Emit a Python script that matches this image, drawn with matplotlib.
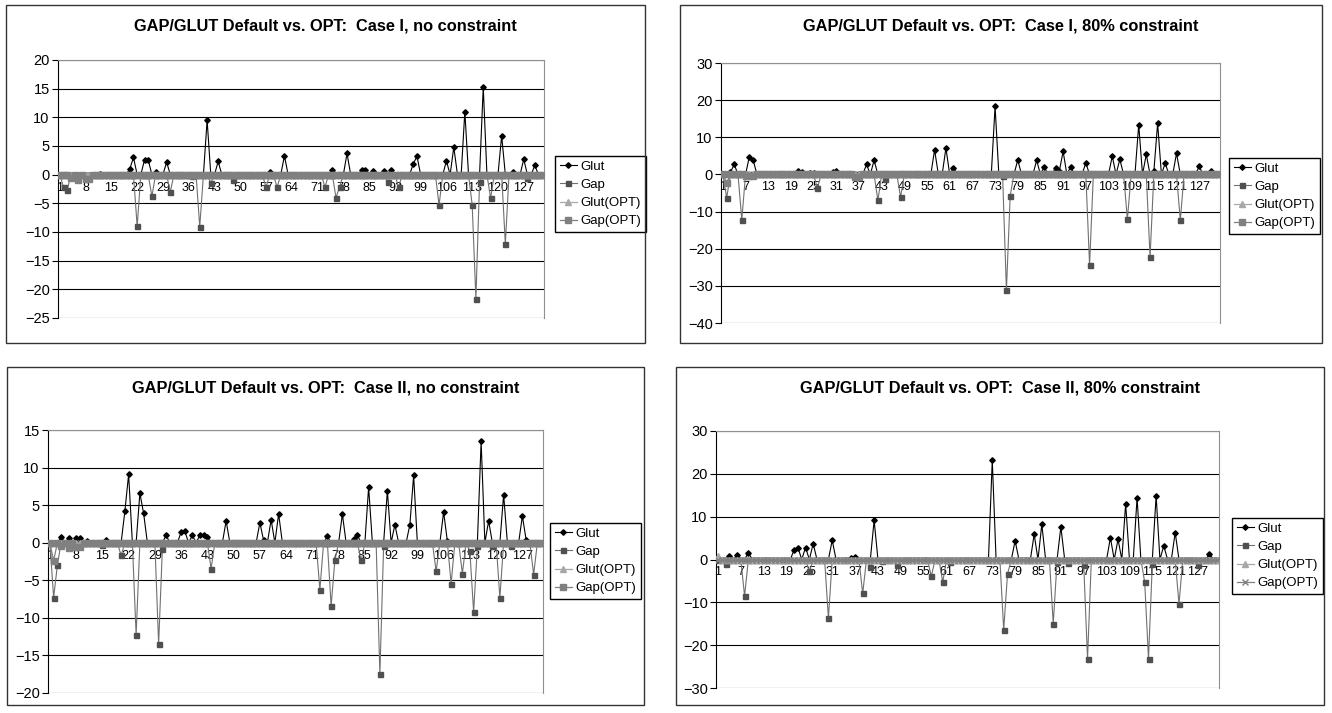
import matplotlib
matplotlib.use("Agg")
import matplotlib.pyplot as plt
import numpy as np
from matplotlib.patches import Rectangle

plt.rcParams["font.family"] = ["Liberation Sans", "DejaVu Sans"]

W, H = 1332, 713
N = 132

# nonzero values per series, {category: value}; every other category is 0
glut_1 = {12: 0.2, 20: 1.0, 21: 3.0, 24: 2.6, 25: 2.6, 27: 0.4, 30: 2.2, 41: 9.5,
          44: 2.3, 58: 0.4, 62: 3.3, 75: 0.8, 79: 3.7, 83: 0.8, 84: 0.8, 86: 0.7,
          89: 0.6, 91: 0.8, 97: 1.9, 98: 3.2, 106: 2.4, 108: 4.8, 111: 11.0,
          116: 15.3, 121: 6.8, 124: 0.4, 127: 2.7, 130: 1.6}
gap_1 = {2: -2.2, 3: -2.7, 22: -9.0, 26: -3.8, 31: -3.0, 37: -0.3, 39: -9.1,
         42: -1.45, 48: -0.9, 57: -2.2, 60: -2.2, 73: -2.2, 76: -4.0, 77: -2.1,
         90: -1.3, 93: -2.2, 104: -5.3, 113: -5.3, 114: -21.6, 115: -1.2,
         118: -4.1, 122: -12.1, 128: -0.5}
glut_opt_1 = {}
gap_opt_1 = {4: -0.6, 6: -1.0, 8: -0.8, 9: -0.8}

glut_2 = {3: 0.6, 4: 2.7, 8: 4.8, 9: 3.9, 21: 0.8, 22: 0.6, 24: 0.5, 25: 0.5,
          30: 0.6, 31: 0.8, 39: 2.7, 41: 3.8, 57: 6.6, 60: 7.1, 62: 1.8, 73: 18.3,
          79: 3.9, 84: 3.8, 86: 2.1, 89: 1.7, 90: 0.9, 91: 6.2, 93: 2.1, 97: 3.1,
          104: 4.9, 106: 4.1, 111: 13.4, 113: 5.4, 115: 0.8, 116: 13.8, 118: 3.0,
          121: 5.7, 127: 2.2, 130: 0.8}
gap_2 = {2: -6.3, 6: -12.2, 26: -3.7, 42: -7.0, 44: -1.3, 48: -6.1, 75: -0.5,
         76: -31.2, 77: -5.7, 98: -24.4, 108: -12.1, 114: -22.3, 122: -12.4}
glut_opt_2 = {}
gap_opt_2 = {2: -2.3, 7: -0.5, 8: -0.5, 9: -0.5, 36: -0.6, 37: -0.6}

glut_3 = {4: 0.75, 6: 0.6, 8: 0.6, 9: 0.6, 11: 0.2, 16: 0.3, 21: 4.2, 22: 9.1,
          25: 6.6, 26: 3.9, 32: 1.0, 36: 1.4, 37: 1.5, 39: 1.0, 41: 1.0, 42: 1.05,
          43: 0.75, 48: 2.9, 57: 2.65, 58: 0.3, 60: 3.05, 62: 3.85, 75: 0.85,
          79: 3.8, 82: 0.45, 83: 1.0, 86: 7.4, 91: 6.9, 93: 2.4, 97: 2.4, 98: 8.95,
          106: 4.1, 107: 0.2, 116: 13.5, 118: 2.9, 122: 6.4, 127: 3.55, 128: 0.4}
gap_3 = {2: -7.3, 3: -3.0, 15: -0.35, 20: -1.7, 24: -12.3, 30: -13.5, 31: -0.8,
         44: -3.45, 73: -6.25, 76: -8.4, 77: -2.35, 84: -2.35, 89: -17.5,
         90: -0.4, 104: -3.8, 108: -5.45, 111: -4.1, 113: -1.15, 114: -9.2,
         115: -0.5, 119: -0.45, 121: -7.35, 124: -0.5, 130: -4.25}
glut_opt_3 = {}
gap_opt_3 = {2: -2.4, 4: -0.4, 6: -0.7, 8: -0.6, 9: -0.6}

glut_4 = {4: 0.9, 6: 1.0, 9: 1.6, 21: 2.25, 22: 2.8, 24: 2.8, 26: 3.7, 31: 4.5,
          36: 0.4, 37: 0.7, 42: 9.15, 73: 23.2, 79: 4.35, 84: 5.9, 86: 8.2,
          91: 7.6, 104: 5.1, 106: 4.7, 108: 13.0, 111: 14.45, 116: 14.9,
          118: 3.2, 121: 6.3, 130: 1.3}
gap_4 = {3: -1.0, 8: -8.5, 25: -2.8, 30: -13.7, 39: -7.9, 41: -1.7, 44: -0.4,
         48: -1.25, 57: -3.95, 60: -5.3, 62: -0.5, 76: -16.4, 77: -3.4,
         89: -15.0, 90: -0.5, 93: -0.8, 97: -1.25, 98: -23.2, 113: -5.3,
         114: -23.2, 115: -1.0, 122: -10.4, 127: -1.25}
glut_opt_4 = {1: 0.8}
gap_opt_4 = {}

titles = [
    "GAP/GLUT Default vs. OPT:  Case I, no constraint",
    "GAP/GLUT Default vs. OPT:  Case I, 80% constraint",
    "GAP/GLUT Default vs. OPT:  Case II, no constraint",
    "GAP/GLUT Default vs. OPT:  Case II, 80% constraint",
]
labels = ["Glut", "Gap", "Glut(OPT)", "Gap(OPT)"]


def full(points):
    arr = np.zeros(N)
    for k, v in points.items():
        arr[k - 1] = v
    return arr


def rect(l, t, r, b):
    return [l / W, 1 - b / H, (r - l) / W, (b - t) / H]


def panel(fig, chart, plot, legend_at, title, data, ylim, ystep, xstep, opt_marker):
    cl, ct, cr, cb = chart
    fig.patches.append(Rectangle((cl / W, 1 - cb / H), (cr - cl) / W, (cb - ct) / H,
                                 transform=fig.transFigure, fill=False,
                                 edgecolor="#333333", linewidth=1.0))
    fig.text((cl + cr) / 2 / W, 1 - (ct + 21) / H, title, ha="center", va="center",
             fontsize=11.8, fontweight="bold")

    ax = fig.add_axes(rect(*plot))
    x = np.arange(1, N + 1)
    glut, gap, glut_opt, gap_opt = [full(d) for d in data]
    ax.plot(x, glut, color="black", lw=0.8, marker="D", ms=2.8, zorder=3, label=labels[0])
    ax.plot(x, gap, color="#707070", lw=0.8, marker="s", ms=3.6,
            mfc="#505050", mec="#505050", zorder=4, label=labels[1])
    ax.plot(x, glut_opt, color="#a8a8a8", lw=0.9, marker="^", ms=4.2, zorder=5,
            label=labels[2])
    ax.plot(x, gap_opt, color="#808080", lw=0.9, marker=opt_marker, ms=4.0,
            mfc="#808080", mec="#808080", zorder=6, label=labels[3])

    ax.set_xlim(0.5, N + 0.5)
    ax.set_ylim(*ylim)
    ax.set_yticks(np.arange(ylim[0], ylim[1] + 0.1, ystep))
    ax.set_xticks(np.arange(1, N + 1, xstep))
    ax.yaxis.grid(True, color="black", lw=0.8)
    ax.set_axisbelow(True)
    ax.spines["bottom"].set_position(("data", 0))
    ax.spines["bottom"].set_zorder(2)
    ax.spines["left"].set_color("black")
    for s in ("top", "right"):
        ax.spines[s].set_color("#909090")
    ax.tick_params(axis="x", length=0, pad=5, labelsize=9)
    ax.tick_params(axis="y", length=4, width=0.8, labelsize=10.5, pad=2)

    ax.legend(loc="upper left", bbox_to_anchor=(legend_at[0] / W, 1 - legend_at[1] / H),
              bbox_transform=fig.transFigure, borderaxespad=0, fontsize=9.5,
              frameon=True, fancybox=False, edgecolor="black", framealpha=1,
              handlelength=1.3, handletextpad=0.3, labelspacing=0.45,
              borderpad=0.35)
    return ax


fig = plt.figure(figsize=(W / 100, H / 100), dpi=100)

panel(fig, (6, 5, 645, 343), (58, 60, 544, 318), (555, 156), titles[0],
      (glut_1, gap_1, glut_opt_1, gap_opt_1), (-25, 20), 5, 7, "s")
panel(fig, (680, 5, 1322, 343), (721, 63, 1220, 323), (1229, 158), titles[1],
      (glut_2, gap_2, glut_opt_2, gap_opt_2), (-40, 30), 10, 6, "s")
panel(fig, (7, 367, 644, 705), (48, 430, 543, 693), (550, 523), titles[2],
      (glut_3, gap_3, glut_opt_3, gap_opt_3), (-20, 15), 5, 7, "s")
panel(fig, (676, 367, 1324, 705), (716, 431, 1219, 688), (1232, 518), titles[3],
      (glut_4, gap_4, glut_opt_4, gap_opt_4), (-30, 30), 10, 6, "x")

fig.savefig("out.png", dpi=100)
